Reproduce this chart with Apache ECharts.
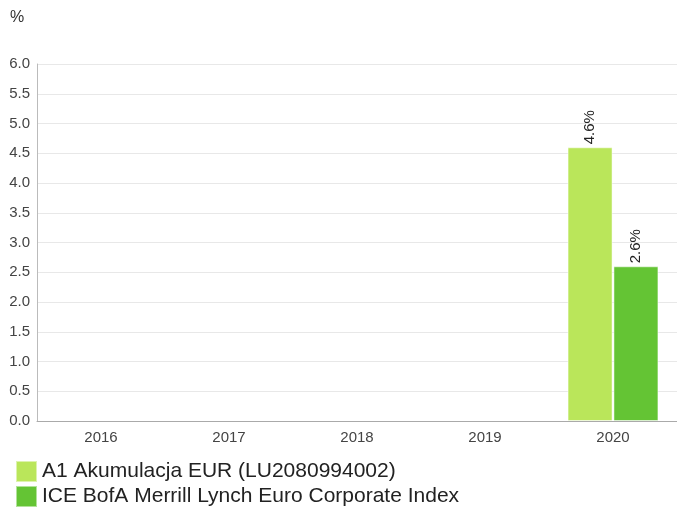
<!DOCTYPE html>
<html>
<head>
<meta charset="utf-8">
<script src="https://cdn.jsdelivr.net/npm/echarts@6/dist/echarts.min.js"></script>
<style>
  html, body { margin: 0; padding: 0; background: #fff; }
  #chart { width: 677px; height: 508px; }
</style>
</head>
<body>
<div id="chart"></div>
<script>
// Calendar years on the category axis
var years = ['2016', '2017', '2018', '2019', '2020'];
// Annual returns in percent ('-' = no value for that year)
var fundReturns = ['-', '-', '-', '-', 4.6];
var indexReturns = ['-', '-', '-', '-', 2.6];
var fundName = 'A1 Akumulacja EUR (LU2080994002)';
var indexName = 'ICE BofA Merrill Lynch Euro Corporate Index';

var font = 'Liberation Sans, Arial, sans-serif';

var chart = echarts.init(document.getElementById('chart'), null, { renderer: 'canvas' });

function barLabel() {
  return {
    show: true,
    position: 'top',
    rotate: 90,
    align: 'left',
    verticalAlign: 'middle',
    distance: 3,
    fontFamily: font,
    fontSize: 15,
    color: '#222',
    formatter: function (p) { return p.value.toFixed(1) + '%'; }
  };
}

// one legend row per series, stacked under the plot
function legendRow(name, top) {
  return {
    left: 15,
    top: top,
    padding: 0,
    itemWidth: 21,
    itemHeight: 21,
    icon: 'rect',
    selectedMode: false,
    textStyle: { fontFamily: font, fontSize: 21, color: '#222' },
    data: [name]
  };
}

chart.setOption({
  animation: false,
  textStyle: { fontFamily: font },
  grid: { left: 37, right: -2, top: 64, bottom: 87, containLabel: false },
  graphic: [{
    type: 'text',
    left: 10,
    top: 10,
    style: { text: '%', fontFamily: font, fontSize: 16, fill: '#333' }
  }],
  legend: [legendRow(fundName, 460), legendRow(indexName, 485)],
  xAxis: {
    type: 'category',
    data: years,
    axisLine: { show: true, lineStyle: { color: '#aaa' } },
    axisTick: { show: false },
    axisLabel: { fontFamily: font, fontSize: 15, color: '#444', margin: 9 },
    splitLine: { show: false }
  },
  yAxis: {
    type: 'value',
    min: 0,
    max: 6,
    interval: 0.5,
    axisLine: { show: true, lineStyle: { color: '#bbb' } },
    axisTick: { show: false },
    axisLabel: {
      fontFamily: font, fontSize: 15, color: '#444', margin: 7,
      formatter: function (v) { return v.toFixed(1); }
    },
    splitLine: { show: true, lineStyle: { color: '#e8e8e8' } }
  },
  series: [{
    name: fundName,
    type: 'bar',
    data: fundReturns,
    barWidth: 45,
    barGap: '2%',
    itemStyle: { color: '#bae65a', borderColor: 'rgba(255,255,255,0.5)', borderWidth: 1 },
    label: barLabel()
  }, {
    name: indexName,
    type: 'bar',
    data: indexReturns,
    barWidth: 45,
    itemStyle: { color: '#64c434', borderColor: 'rgba(255,255,255,0.5)', borderWidth: 1 },
    label: barLabel()
  }]
});
</script>
</body>
</html>
